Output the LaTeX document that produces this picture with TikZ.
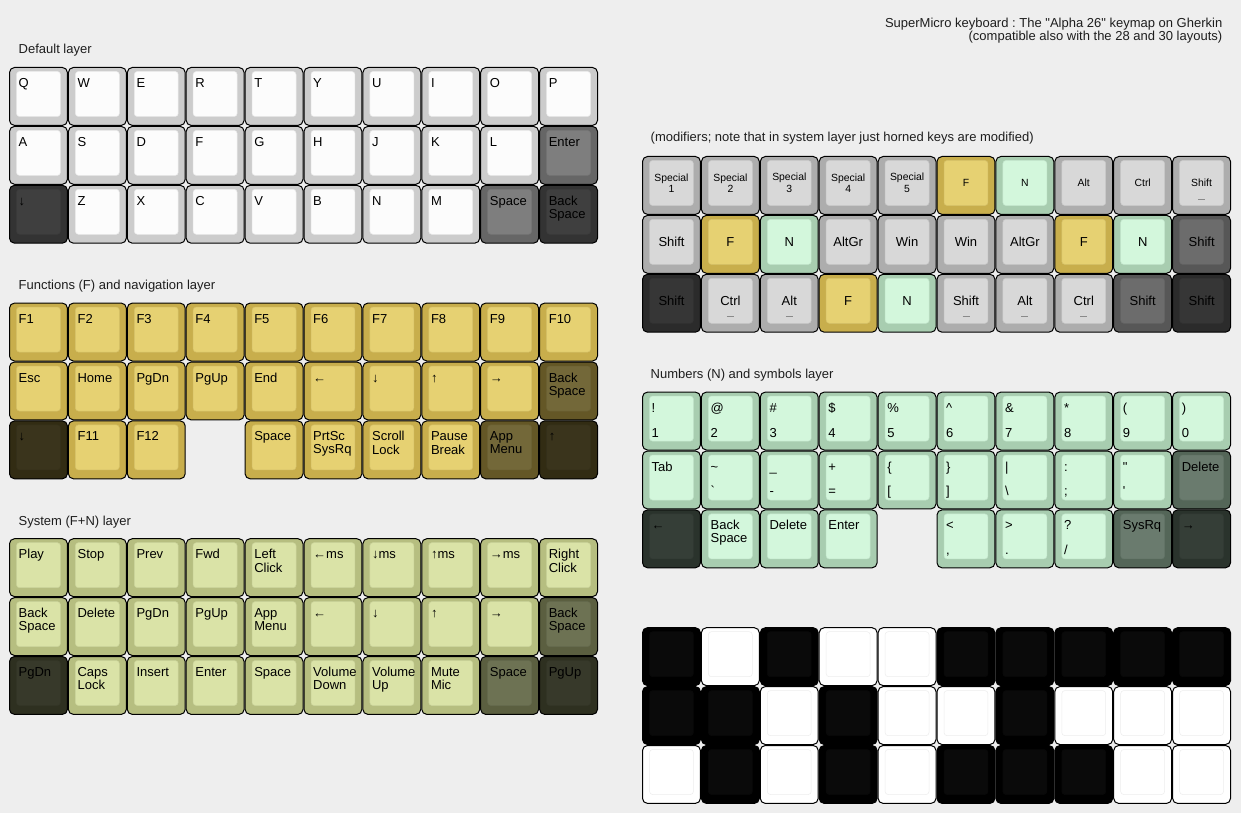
\documentclass[tikz,border=0pt]{standalone}
\usepackage{fontspec}
\setmainfont{Liberation Sans}
\definecolor{pagebg}{HTML}{EEEEEE}
\definecolor{headgray}{HTML}{1E1E1E}
\definecolor{alphaout}{HTML}{CCCCCC}
\definecolor{alphain}{HTML}{FCFCFC}
\definecolor{fnout}{HTML}{C8AE4C}
\definecolor{fnin}{HTML}{E6D172}
\definecolor{sysout}{HTML}{B6BE80}
\definecolor{sysin}{HTML}{DAE3A7}
\definecolor{numout}{HTML}{A8CDB0}
\definecolor{numin}{HTML}{D3F7DC}
\definecolor{modout}{HTML}{ADADAD}
\definecolor{modin}{HTML}{D8D8D8}
\definecolor{blkout}{HTML}{000000}
\definecolor{blkin}{HTML}{0A0A0A}
\definecolor{whtout}{HTML}{FFFFFF}
\definecolor{whtin}{HTML}{FFFFFF}
\definecolor{nubgray}{HTML}{8A8A8A}
\newcommand{\kw}{58.9}
\newcommand{\keyfont}{\fontsize{13}{13}\selectfont\frenchspacing}
\newcommand{\smallkeyfont}{\fontsize{10.4}{11.5}\selectfont}
\newcommand{\twoline}[2]{\begin{tabular}[t]{@{}l@{}}#1\\#2\end{tabular}}
% keycap: left, top, colour scheme, shade (100 normal, 50 medium, 25 dark)
\newcommand{\keycap}[4]{%
  \draw[keyrim, fill=#3out!#4!black] (#1+0.5,#2+0.5) rectangle ++(57.9,57.9);
  \draw[keytop, fill=#3in!#4!black, draw=#3in!#4!black!93!black]
    (#1+7.5,#2+4.5) rectangle (#1+51.4,#2+49.5);}

\begin{document}
\begin{tikzpicture}[x=1pt, y=-1pt,
  keyrim/.style={draw=black, line width=1pt, rounded corners=5pt},
  keytop/.style={line width=0.5pt, rounded corners=3pt},
  legend/.style={anchor=base west, inner sep=0pt, font=\keyfont},
  midlegend/.style={anchor=center, inner sep=0pt, align=center, font=\keyfont},
  smalllegend/.style={midlegend, font=\smallkeyfont},
  heading/.style={anchor=base west, inner sep=0pt, font=\keyfont, text=headgray},
  nub/.style={draw=nubgray, line width=1pt}]
  \useasboundingbox[fill=pagebg] (0,0) rectangle (1241,813);

  % Title
  \node[anchor=base east, inner sep=0pt, font=\keyfont, text=headgray] (title) at (1222.5,27.5)
    {\begin{tabular}[t]{@{}r@{}}SuperMicro keyboard : The \textquotedbl Alpha 26\textquotedbl{} keymap on Gherkin\\(compatible also with the 28 and 30 layouts)\end{tabular}};

  % Default layer
  \node[heading] (head-def) at (18.5,54) {Default layer};
  \foreach \lab [count=\i from 0] in {Q,W,E,R,T,Y,U,I,O,P}{
    \keycap{9+\i*\kw}{67}{alpha}{100}
    \node[legend] (def-a\i) at (18.5+\i*\kw,87.5) {\lab};
  }
  \foreach \lab/\shd [count=\i from 0] in {A/100,S/100,D/100,F/100,G/100,H/100,J/100,K/100,L/100,Enter/50}{
    \keycap{9+\i*\kw}{125.9}{alpha}{\shd}
    \node[legend] (def-b\i) at (18.5+\i*\kw,146.4) {\lab};
  }
  \foreach \lab/\shd [count=\i from 0] in {↓/25,Z/100,X/100,C/100,V/100,B/100,N/100,M/100,Space/50,{\twoline{Back}{Space}}/25}{
    \keycap{9+\i*\kw}{184.8}{alpha}{\shd}
    \node[legend] (def-c\i) at (18.5+\i*\kw,205.3) {\lab};
  }

  % Functions (F) and navigation layer
  \node[heading] (head-fn) at (18.5,289.5) {Functions (F) and navigation layer};
  \foreach \lab [count=\i from 0] in {F1,F2,F3,F4,F5,F6,F7,F8,F9,F10}{
    \keycap{9+\i*\kw}{302.6}{fn}{100}
    \node[legend] (fn-a\i) at (18.5+\i*\kw,323.1) {\lab};
  }
  \foreach \lab/\shd [count=\i from 0] in {Esc/100,Home/100,PgDn/100,PgUp/100,End/100,←/100,↓/100,↑/100,→/100,{\twoline{Back}{Space}}/50}{
    \keycap{9+\i*\kw}{361.5}{fn}{\shd}
    \node[legend] (fn-b\i) at (18.5+\i*\kw,382) {\lab};
  }
  \foreach \c/\lab/\shd in {0/↓/25,1/F11/100,2/F12/100,4/Space/100,5/{\twoline{PrtSc}{SysRq}}/100,
      6/{\twoline{Scroll}{Lock}}/100,7/{\twoline{Pause}{Break}}/100,8/{\twoline{App}{Menu}}/50,9/↑/25}{
    \keycap{9+\c*\kw}{420.4}{fn}{\shd}
    \node[legend] (fn-c\c) at (18.5+\c*\kw,440.9) {\lab};
  }

  % System (F+N) layer
  \node[heading] (head-sys) at (18.5,525) {System (F+N) layer};
  \foreach \lab [count=\i from 0] in {Play,Stop,Prev,Fwd,{\twoline{Left}{Click}},←ms,↓ms,↑ms,→ms,{\twoline{Right}{Click}}}{
    \keycap{9+\i*\kw}{538.2}{sys}{100}
    \node[legend] (sys-a\i) at (18.5+\i*\kw,558.7) {\lab};
  }
  \foreach \lab/\shd [count=\i from 0] in {{\twoline{Back}{Space}}/100,Delete/100,PgDn/100,PgUp/100,
      {\twoline{App}{Menu}}/100,←/100,↓/100,↑/100,→/100,{\twoline{Back}{Space}}/50}{
    \keycap{9+\i*\kw}{597.1}{sys}{\shd}
    \node[legend] (sys-b\i) at (18.5+\i*\kw,617.6) {\lab};
  }
  \foreach \lab/\shd [count=\i from 0] in {PgDn/25,{\twoline{Caps}{Lock}}/100,Insert/100,Enter/100,Space/100,
      {\twoline{Volume}{Down}}/100,{\twoline{Volume}{Up}}/100,{\twoline{Mute}{Mic}}/100,Space/50,PgUp/25}{
    \keycap{9+\i*\kw}{656}{sys}{\shd}
    \node[legend] (sys-c\i) at (18.5+\i*\kw,676.5) {\lab};
  }

  % Modifiers
  \node[heading] (head-mod) at (650.5,142) {(modifiers; note that in system layer just horned keys are modified)};
  \foreach \lab/\sch [count=\i from 0] in {{Special\\1}/mod,{Special\\2}/mod,{Special\\3}/mod,{Special\\4}/mod,
      {Special\\5}/mod,F/fn,N/num,Alt/mod,Ctrl/mod,Shift/mod}{
    \keycap{642+\i*\kw}{156}{\sch}{100}
    \node[smalllegend] (mod-a\i) at (671.5+\i*\kw,183) {\lab};
  }
  \foreach \lab/\sch/\shd [count=\i from 0] in {Shift/mod/100,F/fn/100,N/num/100,AltGr/mod/100,Win/mod/100,
      Win/mod/100,AltGr/mod/100,F/fn/100,N/num/100,Shift/mod/50}{
    \keycap{642+\i*\kw}{214.9}{\sch}{\shd}
    \node[midlegend] (mod-b\i) at (671.5+\i*\kw,241.9) {\lab};
  }
  \foreach \lab/\sch/\shd [count=\i from 0] in {Shift/mod/25,Ctrl/mod/100,Alt/mod/100,F/fn/100,N/num/100,
      Shift/mod/100,Alt/mod/100,Ctrl/mod/100,Shift/mod/50,Shift/mod/25}{
    \keycap{642+\i*\kw}{273.8}{\sch}{\shd}
    \node[midlegend] (mod-c\i) at (671.5+\i*\kw,300.8) {\lab};
  }
  % horned keys
  \foreach \c/\r in {9/0,1/2,2/2,5/2,6/2,7/2}{
    \draw[nub] (668+\c*\kw,199+\r*\kw) -- ++(7,0);
  }

  % Numbers (N) and symbols layer
  \node[heading] (head-num) at (650.5,378) {Numbers (N) and symbols layer};
  \foreach \up/\dn [count=\i from 0] in {{!}/1,@/2,\#/3,\$/4,\%/5,\textasciicircum/6,\&/7,*/8,{(}/9,{)}/0}{
    \keycap{642+\i*\kw}{391.6}{num}{100}
    \node[legend] (num-a\i) at (651.5+\i*\kw,412.1) {\up};
    \node[legend] (num-a\i-lo) at (651.5+\i*\kw,437) {\dn};
  }
  \foreach \c/\up/\dn in {1/\textasciitilde/\textasciigrave,2/\_/-,3/+/=,4/\{/[,5/\}/],6/\textbar/\textbackslash,
      7/:/;,8/\textquotedbl/\textquotesingle}{
    \keycap{642+\c*\kw}{450.5}{num}{100}
    \node[legend] (num-b\c) at (651.5+\c*\kw,471) {\up};
    \node[legend] (num-b\c-lo) at (651.5+\c*\kw,495.9) {\dn};
  }
  \foreach \c/\lab/\shd in {0/Tab/100,9/Delete/50}{
    \keycap{642+\c*\kw}{450.5}{num}{\shd}
    \node[legend] (num-b\c) at (651.5+\c*\kw,471) {\lab};
  }
  \foreach \c/\lab/\shd in {0/←/25,1/{\twoline{Back}{Space}}/100,2/Delete/100,3/Enter/100,8/SysRq/50,9/→/25}{
    \keycap{642+\c*\kw}{509.4}{num}{\shd}
    \node[legend] (num-c\c) at (651.5+\c*\kw,529.9) {\lab};
  }
  \foreach \c/\up/\dn in {5/</{,},6/>/.,7/?/{/}}{
    \keycap{642+\c*\kw}{509.4}{num}{100}
    \node[legend] (num-c\c) at (651.5+\c*\kw,529.9) {\up};
    \node[legend] (num-c\c-lo) at (651.5+\c*\kw,554.8) {\dn};
  }

  % Black and white pattern
  \foreach \r/\pat in {0/{blk,wht,blk,wht,wht,blk,blk,blk,blk,blk},
      1/{blk,blk,wht,blk,wht,wht,blk,wht,wht,wht},
      2/{wht,blk,wht,blk,wht,blk,blk,blk,wht,wht}}{
    \foreach \sch [count=\i from 0] in \pat {
      \keycap{642+\i*\kw}{627.2+\r*\kw}{\sch}{100}
    }
  }
\end{tikzpicture}
\end{document}
